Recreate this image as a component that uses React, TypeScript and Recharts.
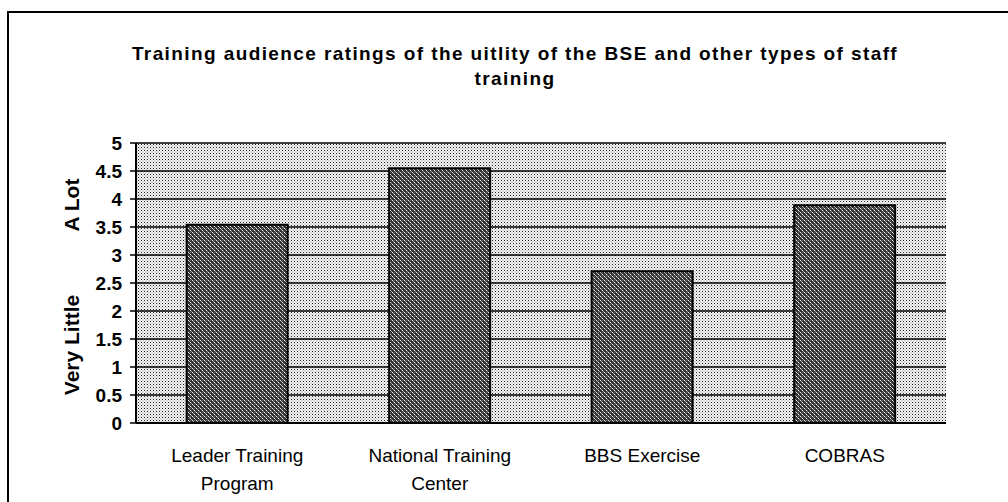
import React from 'react';
import { BarChart, Bar, XAxis, YAxis, CartesianGrid, Label } from 'recharts';

const categories = ['Leader Training\nProgram', 'National Training\nCenter', 'BBS Exercise', 'COBRAS'];
const ratings = [3.54, 4.55, 2.71, 3.89];
const yTicks = [0, 0.5, 1, 1.5, 2, 2.5, 3, 3.5, 4, 4.5, 5];

const data = categories.map((name, i) => ({ name, value: ratings[i] }));

const FONT = '"Liberation Sans", Arial, sans-serif';

const CategoryTick = (props: any) => {
  const { x, y, payload } = props;
  const lines = String(payload.value).split('\n');
  return (
    <g transform={`translate(${x},${y})`}>
      {lines.map((line: string, i: number) => (
        <text
          key={i}
          x={0}
          y={31 + i * 28}
          textAnchor="middle"
          fontFamily={FONT}
          fontSize={19}
          fill="#000"
        >
          {line}
        </text>
      ))}
    </g>
  );
};

const AxisTitle = (props: any) => {
  const vb = props.viewBox || {};
  const cx = 72;
  const top = vb.y ?? 143;
  return (
    <g fontFamily={FONT} fontWeight="bold" fontSize={21} fill="#000">
      <text x={cx} y={top + 62} textAnchor="middle" transform={`rotate(-90 ${cx} ${top + 62})`} dy={7}>
        A Lot
      </text>
      <text x={cx} y={top + 202} textAnchor="middle" transform={`rotate(-90 ${cx} ${top + 202})`} dy={7}>
        Very Little
      </text>
    </g>
  );
};

export default function App() {
  return (
    <div style={{ position: 'absolute', left: 0, top: 0, width: 1008, height: 502, overflow: 'hidden', background: '#fff' }}>
      <div
        style={{
          position: 'absolute',
          left: 7,
          top: 11,
          width: 1100,
          height: 600,
          borderTop: '2px solid #000',
          borderLeft: '2px solid #000',
        }}
      />
      <div
        style={{
          position: 'absolute',
          left: 0,
          top: 41,
          width: 1030,
          textAlign: 'center',
          fontFamily: FONT,
          fontWeight: 'bold',
          fontSize: 19,
          letterSpacing: 1.4,
          lineHeight: '25px',
          color: '#000',
        }}
      >
        Training audience ratings of the uitlity of the BSE and other types of staff
        <br />
        training
      </div>
      <div style={{ position: 'absolute', left: 0, top: 0 }}>
        <BarChart
          width={1008}
          height={502}
          data={data}
          margin={{ top: 143, right: 62, left: 86, bottom: 0 }}
          barCategoryGap="25%"
        >
          <defs>
            <pattern id="bgDots" width="3" height="3" patternUnits="userSpaceOnUse">
              <rect width="3" height="3" fill="#f4f4f4" />
              <rect x="0" y="0" width="1" height="1" fill="#222" />
              <rect x="1.5" y="1.5" width="1" height="1" fill="#888" />
            </pattern>
            <pattern id="barHatch" width="4" height="4" patternUnits="userSpaceOnUse">
              <rect width="4" height="4" fill="#333" />
              <rect x="0" y="0" width="1" height="1" fill="#eee" />
              <rect x="1" y="1" width="1" height="1" fill="#aaa" />
              <rect x="2" y="2" width="1" height="1" fill="#fff" />
              <rect x="3" y="3" width="1" height="1" fill="#999" />
              <rect x="2" y="0" width="1" height="1" fill="#666" />
            </pattern>
          </defs>
          <CartesianGrid
            vertical={false}
            stroke="#000"
            strokeWidth={1.5}
            fill="url(#bgDots)"
            fillOpacity={1}
          />
          <XAxis
            dataKey="name"
            height={79}
            interval={0}
            axisLine={{ stroke: '#000', strokeWidth: 2 }}
            tickLine={false}
            tick={<CategoryTick />}
          />
          <YAxis
            width={50}
            domain={[0, 5]}
            ticks={yTicks}
            interval={0}
            axisLine={{ stroke: '#000', strokeWidth: 2 }}
            tickLine={{ stroke: '#000', strokeWidth: 1.5 }}
            tickSize={6}
            tickMargin={8}
            tick={{ fill: '#000', fontFamily: FONT, fontWeight: 'bold', fontSize: 19 }}
          >
            <Label content={<AxisTitle />} />
          </YAxis>
          <YAxis
            yAxisId="right"
            orientation="right"
            width={0}
            domain={[0, 5]}
            tick={false}
            tickLine={false}
            axisLine={{ stroke: '#222', strokeWidth: 2 }}
          />
          <Bar
            dataKey="value"
            fill="url(#barHatch)"
            stroke="#000"
            strokeWidth={2}
            isAnimationActive={false}
          />
        </BarChart>
      </div>
    </div>
  );
}
